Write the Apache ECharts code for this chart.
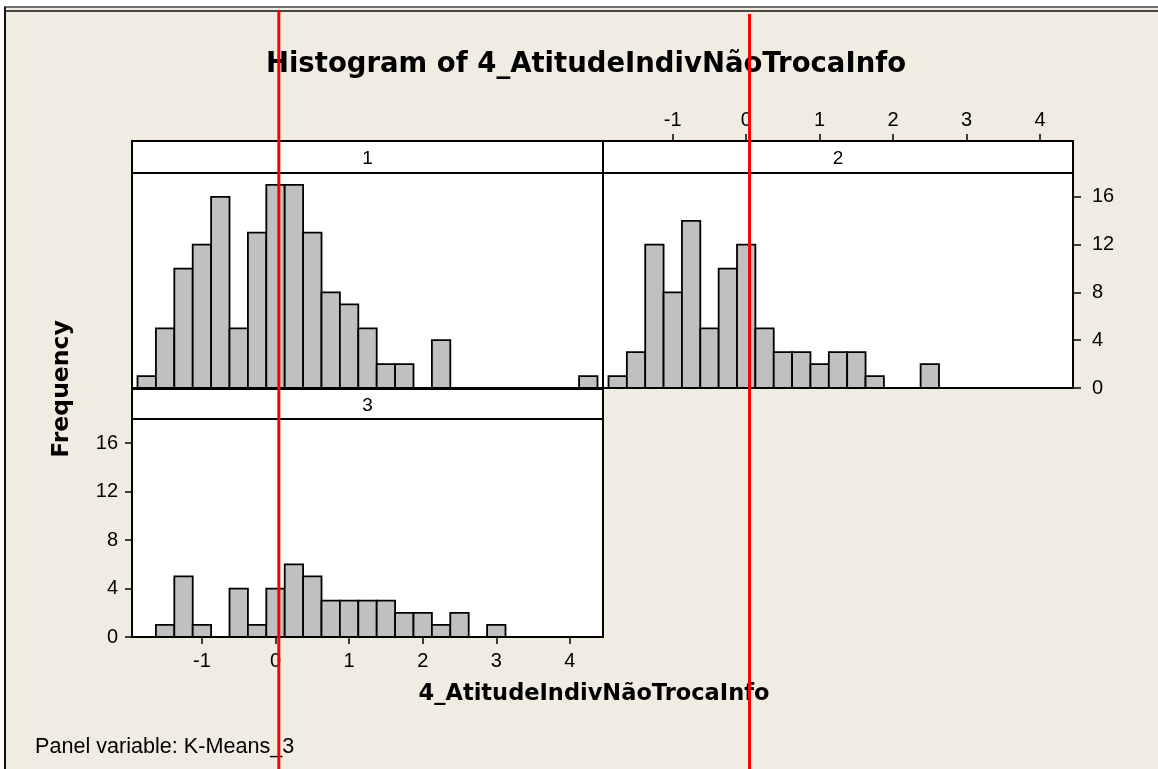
<!DOCTYPE html>
<html><head><meta charset="utf-8">
<script src="https://cdn.jsdelivr.net/npm/echarts@6/dist/echarts.min.js"></script>
<style>html,body{margin:0;padding:0;background:#fff}#c{width:1158px;height:769px}</style>
</head><body><div id="c"></div>
<script>
// ---- data ----
const binCenters = [-1.75,-1.5,-1.25,-1,-0.75,-0.5,-0.25,0,0.25,0.5,0.75,1,1.25,1.5,1.75,2,2.25,2.5,2.75,3,3.25,3.5,3.75,4,4.25];
const binWidth = 0.25;
const counts1 = [1,5,10,12,16,5,13,17,17,13,8,7,5,2,2,0,4,0,0,0,0,0,0,0,1];
const counts2 = [1,3,12,8,14,5,10,12,5,3,3,2,3,3,1,0,0,2,0,0,0,0,0,0,0];
const counts3 = [0,1,5,1,0,4,1,4,6,5,3,3,3,3,2,2,1,2,0,1,0,0,0,0,0];
const panelLabels = ['1','2','3'];
const xTicks = [-1,0,1,2,3,4];
const yTicks = [0,4,8,12,16];
const refLine = 0.045;
const titleText = 'Histogram of 4_AtitudeIndivNãoTrocaInfo';
const xTitle = '4_AtitudeIndivNãoTrocaInfo';
const yTitle = 'Frequency';
const footer = 'Panel variable: K-Means_3';

// ---- layout / style ----
const X_MIN = -1.95, X_MAX = 4.45, Y_MAX = 18;
const BG = '#F0ECE2';
const FONT = "'Liberation Sans', 'DejaVu Sans', sans-serif";
const BOLD = "'DejaVu Sans', sans-serif";
const panels = [
  {left:132, top:173, width:471, height:215},
  {left:603, top:173, width:470, height:215},
  {left:132, top:419, width:471, height:218}
];
const strips = [
  {x:132, y:141, w:471, h:32},
  {x:603, y:141, w:470, h:32},
  {x:132, y:389, w:471, h:30}
];

const chart = echarts.init(document.getElementById('c'), null, {renderer:'canvas'});

function renderBar(params, api) {
  const c = api.value(0), n = api.value(1);
  const p0 = api.coord([c - binWidth/2, n]);
  const p1 = api.coord([c + binWidth/2, 0]);
  return {
    type:'rect',
    shape:{x:p0[0], y:p0[1], width:p1[0]-p0[0], height:p1[1]-p0[1]},
    style:{fill: n > 0 ? '#C0C0C0' : 'none', stroke:'#000', lineWidth:1.8}
  };
}

const tickLabelStyle = {color:'#000', fontSize:20, fontFamily:FONT};
const lineOff = {show:false, onZero:false};
const lineOn = {show:true, onZero:false, lineStyle:{color:'#000', width:2}};

const xAxes = [
  {gridIndex:0, type:'value', min:X_MIN, max:X_MAX, show:false, axisLine:lineOff},
  {gridIndex:1, type:'value', min:X_MIN, max:X_MAX, position:'top', offset:32,
   axisLine:lineOff, splitLine:{show:false},
   axisTick:{show:true, length:7, lineStyle:{color:'#000', width:1.5}, customValues:xTicks},
   axisLabel:Object.assign({margin:11, customValues:xTicks}, tickLabelStyle)},
  {gridIndex:2, type:'value', min:X_MIN, max:X_MAX, position:'bottom',
   axisLine:lineOn, splitLine:{show:false},
   axisTick:{show:true, length:7, lineStyle:{color:'#000', width:1.5}, customValues:xTicks},
   axisLabel:Object.assign({margin:14, customValues:xTicks}, tickLabelStyle)}
];
const yAxes = [
  {gridIndex:0, type:'value', min:0, max:Y_MAX, show:false, axisLine:lineOff},
  {gridIndex:1, type:'value', min:0, max:Y_MAX, position:'right',
   axisLine:lineOn, splitLine:{show:false},
   axisTick:{show:true, length:8, lineStyle:{color:'#000', width:1.5}, customValues:yTicks},
   axisLabel:Object.assign({margin:19, customValues:yTicks}, tickLabelStyle)},
  {gridIndex:2, type:'value', min:0, max:Y_MAX, position:'left',
   axisLine:lineOn, splitLine:{show:false},
   axisTick:{show:true, length:7, lineStyle:{color:'#000', width:1.5}, customValues:yTicks},
   axisLabel:Object.assign({margin:14, customValues:yTicks}, tickLabelStyle)}
];

const allCounts = [counts1, counts2, counts3];
const series = allCounts.map((cnt, i) => ({
  type:'custom', xAxisIndex:i, yAxisIndex:i, clip:false,
  renderItem:renderBar, encode:{x:0, y:1},
  data: binCenters.map((c, k) => [c, cnt[k]])
}));

const graphics = [
  {type:'rect', shape:{x:0, y:0, width:1158, height:7}, style:{fill:'#fff'}, z:100},
  {type:'rect', shape:{x:0, y:0, width:4, height:769}, style:{fill:'#fff'}, z:100},
  {type:'line', shape:{x1:4, y1:7, x2:1158, y2:7}, style:{stroke:'#444', lineWidth:1.5}, z:101},
  {type:'line', shape:{x1:4, y1:11, x2:1158, y2:11}, style:{stroke:'#111', lineWidth:1.5}, z:101},
  {type:'line', shape:{x1:5, y1:7, x2:5, y2:769}, style:{stroke:'#111', lineWidth:2}, z:101},
  {type:'text', x:586, y:65, style:{text:titleText, font:"bold 27.5px " + BOLD, fill:'#000', align:'center', verticalAlign:'middle'}},
  {type:'text', x:594, y:694, style:{text:xTitle, font:"bold 22.5px " + BOLD, fill:'#000', align:'center', verticalAlign:'middle'}},
  {type:'text', x:62, y:389, rotation:Math.PI/2, style:{text:yTitle, font:"bold 23.5px " + BOLD, fill:'#000', align:'center', verticalAlign:'middle'}},
  {type:'text', x:35, y:747, style:{text:footer, font:"21.6px " + FONT, fill:'#000', align:'left', verticalAlign:'middle'}}
];
strips.forEach((s, i) => {
  graphics.push({type:'rect', shape:{x:s.x, y:s.y, width:s.w, height:s.h}, style:{fill:'#fff', stroke:'#000', lineWidth:2}, z:5});
  graphics.push({type:'text', x:s.x + s.w/2, y:s.y + s.h/2 + 2, style:{text:panelLabels[i], font:"19px " + FONT, fill:'#000', align:'center', verticalAlign:'middle'}, z:6});
});

chart.setOption({
  backgroundColor: BG,
  animation:false,
  grid: panels.map(p => Object.assign({show:true, backgroundColor:'#fff', borderColor:'#000', borderWidth:2, containLabel:false}, p)),
  xAxis: xAxes,
  yAxis: yAxes,
  series: series,
  graphic: graphics
});

// red reference lines, positioned through the axes' scales
const rx1 = chart.convertToPixel({xAxisIndex:0}, refLine);
const rx2 = chart.convertToPixel({xAxisIndex:1}, refLine);
chart.setOption({graphic: graphics.concat([
  {type:'line', shape:{x1:rx1, y1:10, x2:rx1, y2:769}, style:{stroke:'#FF0000', lineWidth:3}, z:200},
  {type:'line', shape:{x1:rx2, y1:14, x2:rx2, y2:769}, style:{stroke:'#FF0000', lineWidth:3}, z:200}
])});
</script></body></html>
